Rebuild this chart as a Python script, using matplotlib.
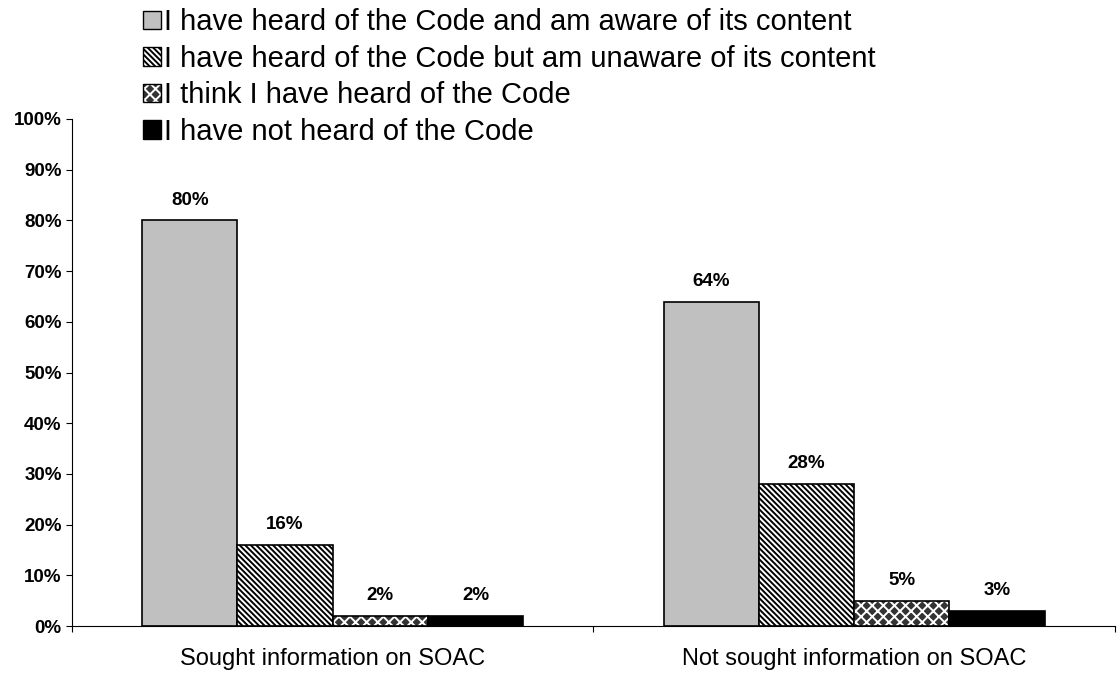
import numpy as np
import matplotlib.pyplot as plt
from matplotlib.patches import Patch

plt.rcParams['font.family'] = ['Liberation Sans', 'DejaVu Sans']
plt.rcParams['hatch.linewidth'] = 1.4

# data
categories = ["Sought information on SOAC", "Not sought information on SOAC"]
series_names = [
    "I have heard of the Code and am aware of its content",
    "I have heard of the Code but am unaware of its content",
    "I think I have heard of the Code",
    "I have not heard of the Code",
]
aware = [80, 64]
unaware = [16, 28]
think_heard = [2, 5]
not_heard = [2, 3]
values = [aware, unaware, think_heard, not_heard]

# styles: face, hatch, hatch colour
styles = [
    ("#c0c0c0", None, "black"),
    ("white", "\\\\\\\\\\\\", "black"),
    ("#333333", "xxx", "white"),
    ("black", None, "black"),
]

fig = plt.figure(figsize=(11.17, 6.73), dpi=100)
ax = fig.add_axes([0.0645, 0.0698, 0.9335, 0.7534])

x = np.arange(len(categories))
w = 0.1827
offsets = (np.arange(4) - 1.5) * w

handles = []
for vals, (fc, hatch, hc), off, name in zip(values, styles, offsets, series_names):
    if hatch:
        # hatched fill first, then a plain black outline on top
        ax.bar(x + off, vals, w, color=fc, hatch=hatch, edgecolor=hc, linewidth=0)
        ax.bar(x + off, vals, w, fill=False, edgecolor="black", linewidth=1.2)
        handles.append((Patch(facecolor=fc, hatch=hatch, edgecolor=hc, linewidth=0),
                        Patch(fill=False, edgecolor="black", linewidth=1)))
    else:
        ax.bar(x + off, vals, w, color=fc, edgecolor="black", linewidth=1.2)
        handles.append(Patch(facecolor=fc, edgecolor="black", linewidth=1))
    for xi, v in zip(x + off, vals):
        ax.annotate(f"{v}%", (xi, v), xytext=(0, 14.5), textcoords="offset points",
                    ha="center", va="center", fontsize=13.5, fontweight="bold")

ax.set_xlim(-0.5, 1.5)
ax.set_ylim(0, 100)
ax.set_yticks(range(0, 101, 10))
ax.set_yticklabels([f"{t}%" for t in range(0, 101, 10)], fontsize=13.5, fontweight="bold")
ax.set_xticks([-0.5, 0.5, 1.5])
ax.set_xticklabels([])
ax.set_xticks(x, minor=True)
ax.set_xticklabels(categories, minor=True, fontsize=17)
ax.tick_params(axis="x", which="minor", length=0, pad=16)
ax.tick_params(axis="x", which="major", length=4, direction="out")
ax.tick_params(axis="y", length=4, direction="out")
for s in ["top", "right"]:
    ax.spines[s].set_visible(False)

fig.legend(handles=handles, labels=series_names, loc="upper left",
           bbox_to_anchor=(0.11, 1.018),
           frameon=False, fontsize=21, handlelength=0.6, handleheight=0.6,
           handletextpad=0.1, labelspacing=0.29, borderpad=0.2)

fig.savefig("out.png", dpi=100)
